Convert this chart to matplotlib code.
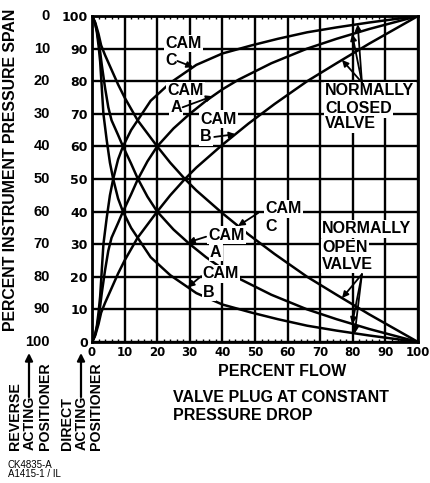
import numpy as np
import matplotlib
matplotlib.use("Agg")
import matplotlib.pyplot as plt
from matplotlib import transforms

plt.rcParams["font.family"] = ["Liberation Sans", "DejaVu Sans"]

# ------------------------------------------------------------
# values (percent flow vs percent span)
# ------------------------------------------------------------
ticks = [0, 10, 20, 30, 40, 50, 60, 70, 80, 90, 100]
direct_labels = ["0", "10", "20", "30", "40", "50", "60", "70", "80", "90", "100"]
reverse_labels = ["100", "90", "80", "70", "60", "50", "40", "30", "20", "10", "0"]

flow_c = [0, 0.5, 1, 1.5, 2, 2.5, 3, 3.5, 4.5, 5.5, 6.5, 8, 9.5, 12, 14, 18, 24,
          32, 40, 49, 57, 66, 75, 85, 100]
closed_c = [0, 1, 2.5, 5, 9, 14, 22, 30, 38, 45, 50, 56, 60, 65, 68, 74, 79.5,
            85, 88.5, 91, 93, 95, 96.5, 98, 100]
open_c = [100, 99, 97.5, 95, 91, 86, 78, 70, 62, 55, 50, 44, 40, 35, 32, 26, 20.5,
          15, 11.5, 9, 7, 5, 3.5, 2, 0]

flow_a = [0, 0.5, 1, 1.5, 2, 2.5, 3, 4, 5, 6, 8, 9.5, 12, 14, 17, 20, 25, 30, 35,
          40, 45, 55, 66, 75, 85, 100]
closed_a = [0, 1, 2.5, 4.5, 7.5, 11, 15, 22, 28, 32, 36.5, 40, 45.3, 49.8, 55.4,
            60, 65.5, 70, 74, 77.5, 80.5, 85.5, 90, 93, 96, 100]
open_a = [100, 99, 97.5, 95.5, 92.5, 89, 85, 78, 72, 68, 63.5, 60, 54.7, 50.2,
          44.6, 40, 34.5, 30, 26, 22.5, 19.5, 14.5, 10, 7, 4, 0]

flow_b = [0, 1, 2, 2.8, 4, 6, 8, 10, 12, 14, 17, 20, 24, 28.5, 32, 40, 48, 56,
          66, 75, 85, 100]
closed_b = [0, 2, 5.5, 9, 12, 16.5, 21, 25, 28.5, 32, 36, 40, 45, 50, 53.5, 60.5,
            67, 73, 80, 85.5, 91.5, 100]
open_b = [100, 98, 94.5, 91, 88, 83.5, 79, 75, 71.5, 68, 64, 60, 55, 50, 46.5,
          39.5, 33, 27, 20, 14.5, 8.5, 0]


def fx(px):
    return px / 431


def fy(py):
    return 1 - py / 483


bold = dict(fontweight="bold", color="black")
box = dict(boxstyle="square,pad=0.08", fc="white", ec="none")
arrow = dict(arrowstyle="-|>", color="black", lw=1.3, mutation_scale=9,
             shrinkA=0, shrinkB=0)
fs = 11.5

fig = plt.figure(figsize=(4.31, 4.83), dpi=100)
ax = fig.add_axes([fx(92), fy(342), 326 / 431, 326 / 483])
ax.set_xlim(0, 100)
ax.set_ylim(0, 100)

# grid
ax.set_axisbelow(True)
ax.set_xticks(ticks)
ax.set_yticks(ticks)
ax.grid(True, color="black", lw=1.7)
ax.set_xticks(np.arange(0, 101, 2), minor=True)
for s in ax.spines.values():
    s.set_linewidth(2)
ax.tick_params(which="major", length=0)
ax.tick_params(axis="x", which="minor", direction="in", length=2.5, width=1,
               top=True, bottom=True)
ax.tick_params(axis="y", which="minor", length=0)
ax.set_xticklabels(direct_labels, fontfamily="DejaVu Sans", fontsize=8.5,
                   fontweight="bold")
ax.set_yticklabels(direct_labels, fontfamily="DejaVu Sans", fontsize=9,
                   fontweight="bold")
ax.tick_params(axis="x", pad=3)
ax.tick_params(axis="y", pad=3)

# outer column of span values (reverse acting)
tr = transforms.blended_transform_factory(fig.transFigure, ax.transData)
for t, lab in zip(ticks, reverse_labels):
    ax.text(fx(50), t, lab, transform=tr, ha="right", va="center",
            fontsize=10.5, clip_on=False, **bold)

# curves
for x, y in [(flow_c, closed_c), (flow_a, closed_a), (flow_b, closed_b),
             (flow_c, open_c), (flow_a, open_a), (flow_b, open_b)]:
    ax.plot(x, y, color="black", lw=1.8, solid_joinstyle="round", zorder=3)

# cam labels, normally closed side
ax.text(22.4, 91.6, "CAM", fontsize=fs, va="center", bbox=box, zorder=4, **bold)
ax.text(22.4, 86.2, "C", fontsize=fs, va="center", bbox=box, zorder=4, **bold)
ax.annotate("", xy=(31, np.interp(31, flow_c, closed_c)), xytext=(26.2, 86.2),
            arrowprops=arrow, zorder=4)

ax.text(23, 77, "CAM", fontsize=fs, va="center", bbox=box, zorder=4, **bold)
ax.text(24, 72, "A", fontsize=fs, va="center", bbox=box, zorder=4, **bold)
ax.annotate("", xy=(37, np.interp(37, flow_a, closed_a)), xytext=(27.8, 72),
            arrowprops=arrow, zorder=4)

ax.text(33.1, 68.4, "CAM", fontsize=fs, va="center", bbox=box, zorder=4, **bold)
ax.text(33.1, 62.9, "B", fontsize=fs, va="center", bbox=box, zorder=4, **bold)
ax.annotate("", xy=(44, np.interp(44, flow_b, closed_b)), xytext=(37.5, 62.9),
            arrowprops=arrow, zorder=4)

# cam labels, normally open side
ax.text(53.1, 40.8, "CAM", fontsize=fs, va="center", bbox=box, zorder=4, **bold)
ax.text(53.1, 35.3, "C", fontsize=fs, va="center", bbox=box, zorder=4, **bold)
ax.annotate("", xy=(44.8, np.interp(44.8, flow_b, open_b)), xytext=(51, 39.6),
            arrowprops=arrow, zorder=4)

ax.text(35.6, 32.8, "CAM", fontsize=fs, va="center", bbox=box, zorder=4, **bold)
ax.text(36.2, 27.6, "A", fontsize=fs, va="center", bbox=box, zorder=4, **bold)
ax.annotate("", xy=(29.4, np.interp(29.4, flow_a, open_a)), xytext=(35, 32.3),
            arrowprops=arrow, zorder=4)

ax.text(34, 20.9, "CAM", fontsize=fs, va="center", bbox=box, zorder=4, **bold)
ax.text(34, 15.3, "B", fontsize=fs, va="center", bbox=box, zorder=4, **bold)
ax.annotate("", xy=(29.4, np.interp(29.4, flow_c, open_c)), xytext=(33.5, 20.2),
            arrowprops=arrow, zorder=4)

# valve labels
for y, s in [(77, "NORMALLY"), (71.5, "CLOSED"), (66.9, "VALVE")]:
    ax.text(71.5, y, s, fontsize=fs, va="center", bbox=box, zorder=4, **bold)
for x, fl, cl in [(76.7, flow_b, closed_b), (79.8, flow_a, closed_a),
                  (81.5, flow_c, closed_c)]:
    ax.annotate("", xy=(x, np.interp(x, fl, cl)), xytext=(82.8, 79.6),
                arrowprops=arrow, zorder=4)

for y, s in [(34.7, "NORMALLY"), (29, "OPEN"), (23.9, "VALVE")]:
    ax.text(70.6, y, s, fontsize=fs, va="center", bbox=box, zorder=4, **bold)
for x, fl, op in [(76.7, flow_b, open_b), (79.8, flow_a, open_a),
                  (80.6, flow_c, open_c)]:
    ax.annotate("", xy=(x, np.interp(x, fl, op)), xytext=(82.8, 20.8),
                arrowprops=arrow, zorder=4)

# axis titles
fig.text(fx(11), fy(170), "PERCENT INSTRUMENT PRESSURE SPAN", rotation=90,
         ha="center", va="center", fontsize=11.4, **bold)
fig.text(fx(282), fy(371), "PERCENT FLOW", ha="center", va="center",
         fontsize=fs, **bold)
fig.text(fx(173), fy(397), "VALVE PLUG AT CONSTANT", ha="left", va="center",
         fontsize=fs, **bold)
fig.text(fx(173), fy(416), "PRESSURE DROP", ha="left", va="center",
         fontsize=fs, **bold)

# positioner notes
for px, s in [(15, "REVERSE"), (30, "ACTING"), (45, "POSITIONER"),
              (67, "DIRECT"), (82, "ACTING"), (96, "POSITIONER")]:
    fig.text(fx(px), fy(450), s, rotation=90, ha="center", va="bottom",
             fontsize=10.2, **bold)
for px in [29, 81]:
    ax.annotate("", xy=(fx(px), fy(353)), xytext=(fx(px), fy(397)),
                xycoords="figure fraction", textcoords="figure fraction",
                arrowprops=dict(arrowstyle="-|>", color="black", lw=1.6,
                                mutation_scale=11, shrinkA=0, shrinkB=0),
                annotation_clip=False)

fig.text(fx(8), fy(465), "CK4835-A", ha="left", va="center", fontsize=7)
fig.text(fx(8), fy(474), "A1415-1 / IL", ha="left", va="center", fontsize=7)

fig.savefig("out.png", dpi=100)
